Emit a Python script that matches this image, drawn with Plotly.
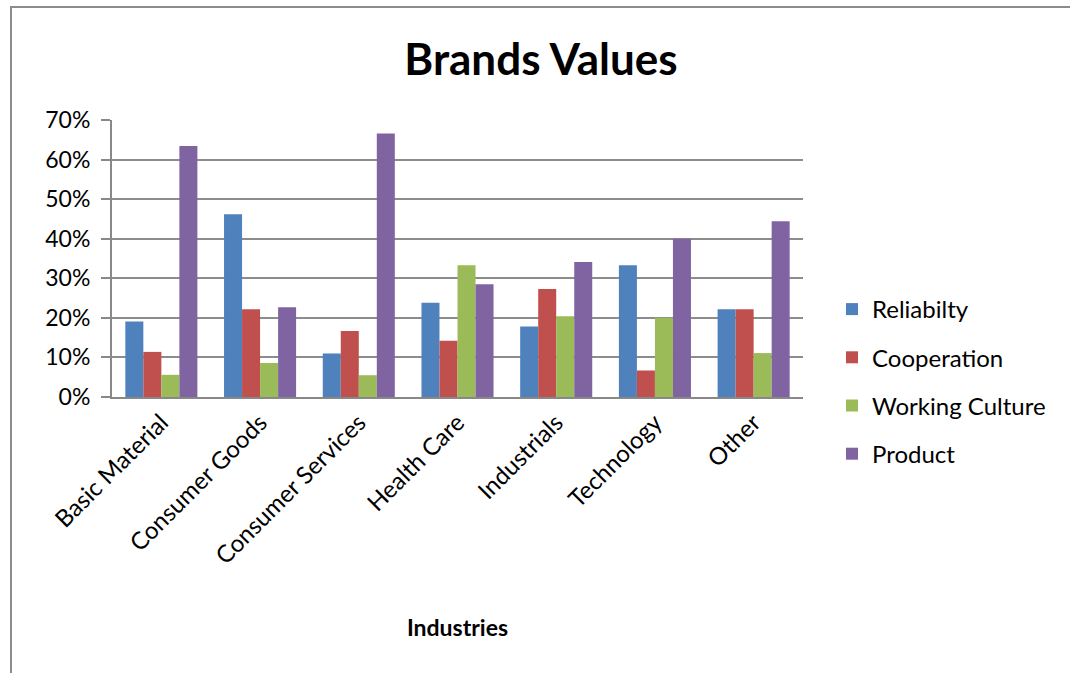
import plotly.graph_objects as go

# Industry categories and the share of each brand value per industry
industries = ["Basic Material", "Consumer Goods", "Consumer Services", "Health Care",
              "Industrials", "Technology", "Other"]
reliability = [0.191, 0.462, 0.110, 0.238, 0.178, 0.333, 0.222]
cooperation = [0.114, 0.222, 0.167, 0.142, 0.273, 0.067, 0.222]
working_culture = [0.056, 0.086, 0.055, 0.333, 0.204, 0.200, 0.111]
product = [0.634, 0.227, 0.666, 0.285, 0.341, 0.400, 0.444]

y_ticks = [0, 0.1, 0.2, 0.3, 0.4, 0.5, 0.6, 0.7]

series = [
    ("Reliabilty", reliability, "#4F81BD"),
    ("Cooperation", cooperation, "#C0504D"),
    ("Working Culture", working_culture, "#9BBB59"),
    ("Product", product, "#8064A2"),
]

FONT = "Lato, Open Sans, sans-serif"
W, H = 1070, 673
L, R, T, B = 112, 803, 120, 397  # plot area edges in pixels

fig = go.Figure()
for name, vals, color in series:
    fig.add_trace(go.Bar(
        x=industries, y=vals, name=name, legendgroup=name,
        marker=dict(color=color, line=dict(width=0)),
    ))

pw, ph = R - L, B - T
def px_x(v):
    return (v - L) / pw
def px_y(v):
    return (B - v) / ph

fig.update_layout(
    width=W, height=H,
    margin=dict(l=L, r=W - R, t=T, b=H - B, autoexpand=False),
    paper_bgcolor="white", plot_bgcolor="white",
    barmode="group", bargap=0.27, bargroupgap=0,
    font=dict(family=FONT, color="black", size=22),
    title=dict(text="<b>Brands Values</b>", x=541 / W, xanchor="center",
               y=1 - 60 / H, yanchor="middle",
               font=dict(family=FONT, size=44, color="black")),
    showlegend=True,
    legend=dict(x=px_x(832), xanchor="left", y=px_y(287), yanchor="top",
                font=dict(family=FONT, size=24, color="black"),
                tracegroupgap=14, itemwidth=30, bgcolor="rgba(0,0,0,0)"),
    xaxis=dict(
        tickangle=-45, tickfont=dict(family=FONT, size=24, color="black"),
        showline=True, linecolor="#888888", linewidth=2,
        ticks="", showgrid=False,
        title=dict(text="<b>Industries</b>", font=dict(family=FONT, size=23, color="black"),
                   standoff=52),
    ),
    yaxis=dict(
        range=[0, 0.7], tickvals=y_ticks, tickformat=".0%",
        tickfont=dict(family=FONT, size=23, color="black"),
        ticklabelstandoff=6,
        showgrid=True, gridcolor="#8C8C8C", gridwidth=2,
        showline=True, linecolor="#888888", linewidth=2,
        ticks="outside", ticklen=9, tickcolor="#888888", tickwidth=2,
        zeroline=False,
    ),
)

# Chart frame (top and left edges visible, the rest runs off the page)
fig.add_shape(type="rect", xref="paper", yref="paper",
              x0=px_x(11), x1=px_x(1085), y0=px_y(690), y1=px_y(7),
              line=dict(color="#8C8C8C", width=2), fillcolor="rgba(0,0,0,0)",
              layer="below")

fig.write_html("out.html")
